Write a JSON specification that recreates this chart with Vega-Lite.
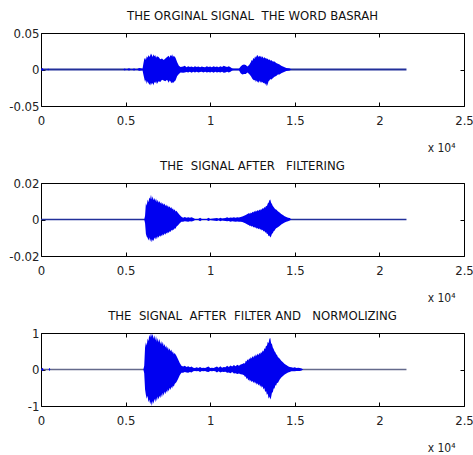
{
  "$schema": "https://vega.github.io/schema/vega-lite/v6.json",
  "padding": {"left": 8, "top": 9, "right": 0, "bottom": 4},
  "background": "white",
  "spacing": 5,
  "config": {
    "font": "Liberation Sans Narrow, DejaVu Sans Condensed, sans-serif",
    "view": {"stroke": "#000", "strokeWidth": 1},
    "axis": {"domain": false, "grid": false, "labelFontSize": 13, "labelColor": "#222", "tickColor": "#000", "tickSize": -4, "labelPadding": 6, "labelFlush": false, "titleFontSize": 12, "titleFontWeight": "normal", "titleColor": "#222", "labelFont": "Liberation Sans Narrow, DejaVu Sans Condensed, sans-serif", "titleFont": "Liberation Sans Narrow, DejaVu Sans Condensed, sans-serif"},
    "axisBottom": {"labelPadding": 12, "titlePadding": 15, "titleX": 414, "titleAlign": "right", "titleAnchor": null},
    "title": {"fontSize": 13, "fontWeight": "normal", "color": "#111", "anchor": "middle", "frame": "group", "offset": 4, "font": "Liberation Sans Narrow, DejaVu Sans Condensed, sans-serif"}
  },
  "datasets": {
    "orig": [
      {"x": 0, "hi": 0, "lo": 0}, {"x": 80, "hi": 0.002, "lo": -0.002}, {"x": 160, "hi": 0, "lo": 0},
      {"x": 380, "hi": 0, "lo": 0}, {"x": 420, "hi": 0.0015, "lo": -0.0015}, {"x": 470, "hi": 0, "lo": 0},
      {"x": 4850, "hi": 0, "lo": 0}, {"x": 4950, "hi": 0.0012, "lo": -0.0012}, {"x": 5050, "hi": 0, "lo": 0},
      {"x": 5200, "hi": 0.0018, "lo": -0.0015}, {"x": 5350, "hi": 0, "lo": 0}, {"x": 5500, "hi": 0.0012, "lo": -0.0012},
      {"x": 5650, "hi": 0, "lo": 0}, {"x": 5800, "hi": 0.002, "lo": -0.0018}, {"x": 6000, "hi": 0.001, "lo": -0.001},
      {"x": 6050, "hi": 0.008, "lo": -0.007}, {"x": 6100, "hi": 0.014, "lo": -0.012}, {"x": 6150, "hi": 0.016, "lo": -0.017}, {"x": 6200, "hi": 0.013, "lo": -0.014}, {"x": 6250, "hi": 0.018, "lo": -0.02},
      {"x": 6300, "hi": 0.016, "lo": -0.016}, {"x": 6350, "hi": 0.02, "lo": -0.019}, {"x": 6400, "hi": 0.017, "lo": -0.02}, {"x": 6450, "hi": 0.019, "lo": -0.022}, {"x": 6500, "hi": 0.022, "lo": -0.018}, {"x": 6550, "hi": 0.02, "lo": -0.021},
      {"x": 6600, "hi": 0.017, "lo": -0.018}, {"x": 6650, "hi": 0.021, "lo": -0.022}, {"x": 6700, "hi": 0.018, "lo": -0.017}, {"x": 6750, "hi": 0.02, "lo": -0.019}, {"x": 6800, "hi": 0.016, "lo": -0.016}, {"x": 6850, "hi": 0.018, "lo": -0.02},
      {"x": 6950, "hi": 0.017, "lo": -0.016}, {"x": 7050, "hi": 0.014, "lo": -0.017}, {"x": 7150, "hi": 0.015, "lo": -0.014},
      {"x": 7250, "hi": 0.013, "lo": -0.015}, {"x": 7350, "hi": 0.015, "lo": -0.016}, {"x": 7450, "hi": 0.017, "lo": -0.014},
      {"x": 7550, "hi": 0.019, "lo": -0.018}, {"x": 7600, "hi": 0.016, "lo": -0.015}, {"x": 7650, "hi": 0.02, "lo": -0.016}, {"x": 7700, "hi": 0.018, "lo": -0.019}, {"x": 7750, "hi": 0.021, "lo": -0.017}, {"x": 7800, "hi": 0.017, "lo": -0.019},
      {"x": 7850, "hi": 0.019, "lo": -0.017}, {"x": 7950, "hi": 0.016, "lo": -0.015}, {"x": 8050, "hi": 0.01, "lo": -0.009},
      {"x": 8150, "hi": 0.005, "lo": -0.006}, {"x": 8250, "hi": 0.0035, "lo": -0.004}, {"x": 8400, "hi": 0.004, "lo": -0.0045},
      {"x": 8500, "hi": 0.005, "lo": -0.004}, {"x": 8600, "hi": 0.003, "lo": -0.0035}, {"x": 8700, "hi": 0.0045, "lo": -0.004},
      {"x": 8800, "hi": 0.0035, "lo": -0.003}, {"x": 8900, "hi": 0.004, "lo": -0.0045}, {"x": 9000, "hi": 0.003, "lo": -0.003},
      {"x": 9100, "hi": 0.0045, "lo": -0.004}, {"x": 9200, "hi": 0.0035, "lo": -0.003}, {"x": 9300, "hi": 0.004, "lo": -0.004},
      {"x": 9400, "hi": 0.003, "lo": -0.0035}, {"x": 9500, "hi": 0.004, "lo": -0.003}, {"x": 9600, "hi": 0.0035, "lo": -0.004},
      {"x": 9700, "hi": 0.003, "lo": -0.003}, {"x": 9800, "hi": 0.0045, "lo": -0.004}, {"x": 9900, "hi": 0.0035, "lo": -0.0035},
      {"x": 10000, "hi": 0.004, "lo": -0.004}, {"x": 10100, "hi": 0.003, "lo": -0.003}, {"x": 10200, "hi": 0.0045, "lo": -0.0045},
      {"x": 10300, "hi": 0.0035, "lo": -0.003}, {"x": 10400, "hi": 0.004, "lo": -0.004}, {"x": 10500, "hi": 0.003, "lo": -0.0035},
      {"x": 10600, "hi": 0.0045, "lo": -0.004}, {"x": 10700, "hi": 0.0035, "lo": -0.003}, {"x": 10800, "hi": 0.005, "lo": -0.0045},
      {"x": 10900, "hi": 0.004, "lo": -0.004}, {"x": 11000, "hi": 0.0035, "lo": -0.003}, {"x": 11100, "hi": 0.0045, "lo": -0.004},
      {"x": 11200, "hi": 0.003, "lo": -0.003}, {"x": 11300, "hi": 0.0015, "lo": -0.0015}, {"x": 11400, "hi": 0.001, "lo": -0.001},
      {"x": 11700, "hi": 0.001, "lo": -0.001}, {"x": 11800, "hi": 0.004, "lo": -0.005}, {"x": 11900, "hi": 0.006, "lo": -0.007},
      {"x": 12000, "hi": 0.007, "lo": -0.006}, {"x": 12100, "hi": 0.006, "lo": -0.006}, {"x": 12200, "hi": 0.004, "lo": -0.004},
      {"x": 12300, "hi": 0.006, "lo": -0.006}, {"x": 12400, "hi": 0.01, "lo": -0.009}, {"x": 12450, "hi": 0.013, "lo": -0.011}, {"x": 12500, "hi": 0.012, "lo": -0.013},
      {"x": 12550, "hi": 0.016, "lo": -0.014}, {"x": 12600, "hi": 0.014, "lo": -0.015}, {"x": 12650, "hi": 0.018, "lo": -0.014}, {"x": 12700, "hi": 0.016, "lo": -0.017}, {"x": 12750, "hi": 0.019, "lo": -0.015}, {"x": 12800, "hi": 0.02, "lo": -0.017},
      {"x": 12850, "hi": 0.017, "lo": -0.018}, {"x": 12900, "hi": 0.019, "lo": -0.015}, {"x": 12950, "hi": 0.017, "lo": -0.018}, {"x": 13000, "hi": 0.019, "lo": -0.016}, {"x": 13050, "hi": 0.016, "lo": -0.018}, {"x": 13100, "hi": 0.018, "lo": -0.017},
      {"x": 13150, "hi": 0.015, "lo": -0.019}, {"x": 13200, "hi": 0.017, "lo": -0.018}, {"x": 13250, "hi": 0.015, "lo": -0.021}, {"x": 13300, "hi": 0.016, "lo": -0.019}, {"x": 13350, "hi": 0.014, "lo": -0.023}, {"x": 13400, "hi": 0.015, "lo": -0.02},
      {"x": 13450, "hi": 0.013, "lo": -0.016}, {"x": 13500, "hi": 0.014, "lo": -0.015}, {"x": 13550, "hi": 0.012, "lo": -0.013}, {"x": 13600, "hi": 0.013, "lo": -0.014}, {"x": 13700, "hi": 0.011, "lo": -0.012},
      {"x": 13800, "hi": 0.011, "lo": -0.01}, {"x": 13900, "hi": 0.009, "lo": -0.009}, {"x": 14000, "hi": 0.008, "lo": -0.007},
      {"x": 14100, "hi": 0.007, "lo": -0.007}, {"x": 14200, "hi": 0.005, "lo": -0.005}, {"x": 14300, "hi": 0.004, "lo": -0.004},
      {"x": 14400, "hi": 0.003, "lo": -0.003}, {"x": 14500, "hi": 0.002, "lo": -0.002}, {"x": 14700, "hi": 0.0012, "lo": -0.0012},
      {"x": 14800, "hi": 0, "lo": 0}, {"x": 21600, "hi": 0, "lo": 0}
    ],
    "filt": [
      {"x": 0, "hi": 0, "lo": 0}, {"x": 6100, "hi": 0, "lo": 0}, {"x": 6150, "hi": 0.002, "lo": -0.002},
      {"x": 6200, "hi": 0.009, "lo": -0.008}, {"x": 6250, "hi": 0.0075, "lo": -0.0095}, {"x": 6300, "hi": 0.011, "lo": -0.01}, {"x": 6350, "hi": 0.0095, "lo": -0.0115}, {"x": 6400, "hi": 0.012, "lo": -0.0098},
      {"x": 6450, "hi": 0.0112, "lo": -0.012}, {"x": 6500, "hi": 0.0135, "lo": -0.0105}, {"x": 6550, "hi": 0.011, "lo": -0.0125}, {"x": 6600, "hi": 0.0128, "lo": -0.011}, {"x": 6650, "hi": 0.0105, "lo": -0.0118}, {"x": 6700, "hi": 0.0118, "lo": -0.0098},
      {"x": 6750, "hi": 0.0102, "lo": -0.011}, {"x": 6800, "hi": 0.0115, "lo": -0.0095}, {"x": 6850, "hi": 0.0095, "lo": -0.0108}, {"x": 6900, "hi": 0.0108, "lo": -0.0092}, {"x": 6950, "hi": 0.0092, "lo": -0.01}, {"x": 7000, "hi": 0.0102, "lo": -0.0088},
      {"x": 7050, "hi": 0.0088, "lo": -0.0095}, {"x": 7100, "hi": 0.0096, "lo": -0.0085}, {"x": 7150, "hi": 0.0082, "lo": -0.0092}, {"x": 7200, "hi": 0.0092, "lo": -0.008}, {"x": 7250, "hi": 0.008, "lo": -0.0088}, {"x": 7300, "hi": 0.0088, "lo": -0.0076},
      {"x": 7350, "hi": 0.0074, "lo": -0.0084}, {"x": 7400, "hi": 0.0082, "lo": -0.0072}, {"x": 7450, "hi": 0.007, "lo": -0.0078}, {"x": 7500, "hi": 0.0078, "lo": -0.0068}, {"x": 7550, "hi": 0.0066, "lo": -0.0074}, {"x": 7600, "hi": 0.0072, "lo": -0.0064},
      {"x": 7650, "hi": 0.0062, "lo": -0.0068}, {"x": 7700, "hi": 0.0068, "lo": -0.0058}, {"x": 7750, "hi": 0.0056, "lo": -0.0062}, {"x": 7800, "hi": 0.0062, "lo": -0.0055}, {"x": 7850, "hi": 0.005, "lo": -0.0056}, {"x": 7900, "hi": 0.0056, "lo": -0.0048},
      {"x": 7950, "hi": 0.0044, "lo": -0.005}, {"x": 8000, "hi": 0.0048, "lo": -0.004}, {"x": 8100, "hi": 0.0035, "lo": -0.0032}, {"x": 8200, "hi": 0.0025, "lo": -0.002},
      {"x": 8300, "hi": 0.0015, "lo": -0.0012}, {"x": 8400, "hi": 0.001, "lo": -0.0012}, {"x": 8500, "hi": 0.0014, "lo": -0.001},
      {"x": 8600, "hi": 0.0009, "lo": -0.0011}, {"x": 8700, "hi": 0.0013, "lo": -0.0012}, {"x": 8800, "hi": 0.001, "lo": -0.0009},
      {"x": 8900, "hi": 0.0012, "lo": -0.0011}, {"x": 9000, "hi": 0.0008, "lo": -0.0008}, {"x": 9100, "hi": 0.0003, "lo": -0.0003},
      {"x": 9300, "hi": 0.0003, "lo": -0.0003}, {"x": 9400, "hi": 0.001, "lo": -0.001}, {"x": 9500, "hi": 0.0003, "lo": -0.0003},
      {"x": 9800, "hi": 0.0003, "lo": -0.0003}, {"x": 9900, "hi": 0.0009, "lo": -0.0008}, {"x": 10000, "hi": 0.0003, "lo": -0.0003},
      {"x": 10400, "hi": 0.0008, "lo": -0.0008}, {"x": 10500, "hi": 0.0004, "lo": -0.0004}, {"x": 10600, "hi": 0.0009, "lo": -0.0009},
      {"x": 10700, "hi": 0.0005, "lo": -0.0005}, {"x": 10900, "hi": 0.0008, "lo": -0.0008}, {"x": 11000, "hi": 0.0012, "lo": -0.001},
      {"x": 11100, "hi": 0.0008, "lo": -0.0008}, {"x": 11200, "hi": 0.0011, "lo": -0.0012}, {"x": 11300, "hi": 0.0009, "lo": -0.0009},
      {"x": 11400, "hi": 0.0012, "lo": -0.0011}, {"x": 11500, "hi": 0.001, "lo": -0.0012}, {"x": 11600, "hi": 0.0013, "lo": -0.0011},
      {"x": 11700, "hi": 0.0011, "lo": -0.0013}, {"x": 11800, "hi": 0.0014, "lo": -0.0012}, {"x": 11900, "hi": 0.0016, "lo": -0.0014},
      {"x": 12000, "hi": 0.002, "lo": -0.0018}, {"x": 12100, "hi": 0.0025, "lo": -0.0022}, {"x": 12200, "hi": 0.003, "lo": -0.0028},
      {"x": 12300, "hi": 0.0035, "lo": -0.0032}, {"x": 12350, "hi": 0.003, "lo": -0.0037}, {"x": 12400, "hi": 0.0038, "lo": -0.0033}, {"x": 12450, "hi": 0.0034, "lo": -0.004}, {"x": 12500, "hi": 0.0043, "lo": -0.0036},
      {"x": 12550, "hi": 0.0038, "lo": -0.0044}, {"x": 12600, "hi": 0.0046, "lo": -0.004}, {"x": 12650, "hi": 0.0041, "lo": -0.0047}, {"x": 12700, "hi": 0.005, "lo": -0.0043}, {"x": 12750, "hi": 0.0044, "lo": -0.005}, {"x": 12800, "hi": 0.0052, "lo": -0.0046},
      {"x": 12850, "hi": 0.0047, "lo": -0.0053}, {"x": 12900, "hi": 0.0055, "lo": -0.0048}, {"x": 12950, "hi": 0.005, "lo": -0.0056}, {"x": 13000, "hi": 0.0058, "lo": -0.0052}, {"x": 13050, "hi": 0.0054, "lo": -0.006}, {"x": 13100, "hi": 0.0063, "lo": -0.0056},
      {"x": 13150, "hi": 0.0059, "lo": -0.0066}, {"x": 13200, "hi": 0.0068, "lo": -0.0061}, {"x": 13250, "hi": 0.0064, "lo": -0.0072}, {"x": 13300, "hi": 0.0076, "lo": -0.0068}, {"x": 13350, "hi": 0.0072, "lo": -0.008}, {"x": 13400, "hi": 0.0088, "lo": -0.0078},
      {"x": 13450, "hi": 0.0092, "lo": -0.0092}, {"x": 13500, "hi": 0.0105, "lo": -0.0088}, {"x": 13550, "hi": 0.011, "lo": -0.0098}, {"x": 13600, "hi": 0.0092, "lo": -0.0092}, {"x": 13650, "hi": 0.0085, "lo": -0.0078}, {"x": 13700, "hi": 0.0074, "lo": -0.0076},
      {"x": 13750, "hi": 0.0068, "lo": -0.0064}, {"x": 13800, "hi": 0.0062, "lo": -0.0062}, {"x": 13850, "hi": 0.0056, "lo": -0.0054}, {"x": 13900, "hi": 0.0055, "lo": -0.0048},
      {"x": 14000, "hi": 0.0045, "lo": -0.0042}, {"x": 14100, "hi": 0.0038, "lo": -0.0035}, {"x": 14200, "hi": 0.003, "lo": -0.0028},
      {"x": 14300, "hi": 0.0025, "lo": -0.0022}, {"x": 14400, "hi": 0.0018, "lo": -0.0016}, {"x": 14500, "hi": 0.0014, "lo": -0.0012},
      {"x": 14600, "hi": 0.001, "lo": -0.001}, {"x": 14700, "hi": 0.0008, "lo": -0.0006}, {"x": 14800, "hi": 0, "lo": 0},
      {"x": 21600, "hi": 0, "lo": 0}
    ],
    "norm": [
      {"x": 0, "hi": 0, "lo": 0}, {"x": 100, "hi": 0.05, "lo": -0.05}, {"x": 150, "hi": 0, "lo": 0},
      {"x": 450, "hi": 0, "lo": 0}, {"x": 500, "hi": 0.05, "lo": -0.04}, {"x": 550, "hi": 0, "lo": 0},
      {"x": 6050, "hi": 0, "lo": 0}, {"x": 6100, "hi": 0.1, "lo": -0.1}, {"x": 6150, "hi": 0.6, "lo": -0.55},
      {"x": 6200, "hi": 0.75, "lo": -0.7}, {"x": 6250, "hi": 0.66, "lo": -0.8}, {"x": 6300, "hi": 0.85, "lo": -0.72}, {"x": 6350, "hi": 0.78, "lo": -0.9}, {"x": 6400, "hi": 0.95, "lo": -0.82},
      {"x": 6450, "hi": 0.88, "lo": -0.95}, {"x": 6500, "hi": 1.0, "lo": -0.88}, {"x": 6550, "hi": 0.9, "lo": -1.0}, {"x": 6600, "hi": 0.98, "lo": -0.86}, {"x": 6650, "hi": 0.84, "lo": -0.94},
      {"x": 6700, "hi": 0.94, "lo": -0.8}, {"x": 6750, "hi": 0.8, "lo": -0.9}, {"x": 6800, "hi": 0.92, "lo": -0.78}, {"x": 6850, "hi": 0.76, "lo": -0.86}, {"x": 6900, "hi": 0.86, "lo": -0.74},
      {"x": 6950, "hi": 0.74, "lo": -0.82}, {"x": 7000, "hi": 0.84, "lo": -0.72}, {"x": 7050, "hi": 0.7, "lo": -0.78}, {"x": 7100, "hi": 0.78, "lo": -0.68}, {"x": 7150, "hi": 0.68, "lo": -0.76},
      {"x": 7200, "hi": 0.76, "lo": -0.64}, {"x": 7250, "hi": 0.64, "lo": -0.72}, {"x": 7300, "hi": 0.7, "lo": -0.6}, {"x": 7350, "hi": 0.6, "lo": -0.68}, {"x": 7400, "hi": 0.66, "lo": -0.58},
      {"x": 7450, "hi": 0.56, "lo": -0.64}, {"x": 7500, "hi": 0.62, "lo": -0.54}, {"x": 7550, "hi": 0.52, "lo": -0.6}, {"x": 7600, "hi": 0.58, "lo": -0.5}, {"x": 7650, "hi": 0.5, "lo": -0.56},
      {"x": 7700, "hi": 0.55, "lo": -0.47}, {"x": 7750, "hi": 0.46, "lo": -0.52}, {"x": 7800, "hi": 0.5, "lo": -0.44}, {"x": 7850, "hi": 0.42, "lo": -0.47},
      {"x": 7900, "hi": 0.45, "lo": -0.4}, {"x": 8000, "hi": 0.38, "lo": -0.35}, {"x": 8100, "hi": 0.28, "lo": -0.26},
      {"x": 8200, "hi": 0.18, "lo": -0.16}, {"x": 8300, "hi": 0.1, "lo": -0.09}, {"x": 8400, "hi": 0.08, "lo": -0.09},
      {"x": 8500, "hi": 0.1, "lo": -0.07}, {"x": 8600, "hi": 0.07, "lo": -0.08}, {"x": 8700, "hi": 0.09, "lo": -0.09},
      {"x": 8800, "hi": 0.06, "lo": -0.07}, {"x": 8900, "hi": 0.08, "lo": -0.08}, {"x": 9000, "hi": 0.05, "lo": -0.05},
      {"x": 9100, "hi": 0.04, "lo": -0.04}, {"x": 9200, "hi": 0.06, "lo": -0.05}, {"x": 9300, "hi": 0.04, "lo": -0.04},
      {"x": 9400, "hi": 0.07, "lo": -0.07}, {"x": 9500, "hi": 0.04, "lo": -0.04}, {"x": 9600, "hi": 0.05, "lo": -0.05},
      {"x": 9700, "hi": 0.04, "lo": -0.04}, {"x": 9800, "hi": 0.06, "lo": -0.06}, {"x": 9900, "hi": 0.08, "lo": -0.07},
      {"x": 10000, "hi": 0.04, "lo": -0.04}, {"x": 10100, "hi": 0.05, "lo": -0.05}, {"x": 10200, "hi": 0.04, "lo": -0.04},
      {"x": 10300, "hi": 0.06, "lo": -0.05}, {"x": 10400, "hi": 0.08, "lo": -0.08}, {"x": 10500, "hi": 0.05, "lo": -0.05},
      {"x": 10600, "hi": 0.09, "lo": -0.08}, {"x": 10700, "hi": 0.05, "lo": -0.06}, {"x": 10800, "hi": 0.07, "lo": -0.07},
      {"x": 10900, "hi": 0.06, "lo": -0.06}, {"x": 11000, "hi": 0.1, "lo": -0.09}, {"x": 11100, "hi": 0.07, "lo": -0.08},
      {"x": 11200, "hi": 0.11, "lo": -0.1}, {"x": 11300, "hi": 0.08, "lo": -0.07}, {"x": 11400, "hi": 0.12, "lo": -0.11},
      {"x": 11500, "hi": 0.09, "lo": -0.1}, {"x": 11600, "hi": 0.13, "lo": -0.12}, {"x": 11700, "hi": 0.1, "lo": -0.11},
      {"x": 11800, "hi": 0.14, "lo": -0.13}, {"x": 11900, "hi": 0.15, "lo": -0.14}, {"x": 12000, "hi": 0.18, "lo": -0.16},
      {"x": 12050, "hi": 0.16, "lo": -0.2}, {"x": 12100, "hi": 0.24, "lo": -0.19}, {"x": 12150, "hi": 0.22, "lo": -0.26}, {"x": 12200, "hi": 0.28, "lo": -0.23}, {"x": 12250, "hi": 0.25, "lo": -0.3},
      {"x": 12300, "hi": 0.31, "lo": -0.27}, {"x": 12350, "hi": 0.28, "lo": -0.33}, {"x": 12400, "hi": 0.34, "lo": -0.29}, {"x": 12450, "hi": 0.3, "lo": -0.35}, {"x": 12500, "hi": 0.37, "lo": -0.31},
      {"x": 12550, "hi": 0.32, "lo": -0.37}, {"x": 12600, "hi": 0.39, "lo": -0.33}, {"x": 12650, "hi": 0.35, "lo": -0.39}, {"x": 12700, "hi": 0.42, "lo": -0.35}, {"x": 12750, "hi": 0.37, "lo": -0.42},
      {"x": 12800, "hi": 0.44, "lo": -0.38}, {"x": 12850, "hi": 0.39, "lo": -0.44}, {"x": 12900, "hi": 0.46, "lo": -0.4}, {"x": 12950, "hi": 0.42, "lo": -0.47}, {"x": 13000, "hi": 0.48, "lo": -0.43},
      {"x": 13050, "hi": 0.45, "lo": -0.5}, {"x": 13100, "hi": 0.52, "lo": -0.46}, {"x": 13150, "hi": 0.49, "lo": -0.55}, {"x": 13200, "hi": 0.58, "lo": -0.51}, {"x": 13250, "hi": 0.56, "lo": -0.62},
      {"x": 13300, "hi": 0.66, "lo": -0.58}, {"x": 13350, "hi": 0.64, "lo": -0.7}, {"x": 13400, "hi": 0.76, "lo": -0.66}, {"x": 13450, "hi": 0.72, "lo": -0.8}, {"x": 13500, "hi": 0.84, "lo": -0.74},
      {"x": 13550, "hi": 0.86, "lo": -0.82}, {"x": 13600, "hi": 0.72, "lo": -0.76}, {"x": 13650, "hi": 0.7, "lo": -0.64}, {"x": 13700, "hi": 0.6, "lo": -0.62}, {"x": 13750, "hi": 0.56, "lo": -0.52},
      {"x": 13800, "hi": 0.5, "lo": -0.52}, {"x": 13850, "hi": 0.47, "lo": -0.43}, {"x": 13900, "hi": 0.42, "lo": -0.44}, {"x": 13950, "hi": 0.4, "lo": -0.36}, {"x": 14000, "hi": 0.34, "lo": -0.37},
      {"x": 14100, "hi": 0.3, "lo": -0.28}, {"x": 14200, "hi": 0.24, "lo": -0.22}, {"x": 14300, "hi": 0.2, "lo": -0.18},
      {"x": 14400, "hi": 0.15, "lo": -0.14}, {"x": 14500, "hi": 0.12, "lo": -0.11}, {"x": 14600, "hi": 0.09, "lo": -0.08},
      {"x": 14700, "hi": 0.07, "lo": -0.07}, {"x": 14800, "hi": 0.06, "lo": -0.05}, {"x": 14900, "hi": 0.05, "lo": -0.05},
      {"x": 15000, "hi": 0.06, "lo": -0.05}, {"x": 15100, "hi": 0.04, "lo": -0.04}, {"x": 15200, "hi": 0.05, "lo": -0.04},
      {"x": 15300, "hi": 0.04, "lo": -0.04}, {"x": 15400, "hi": 0.03, "lo": -0.03}, {"x": 15500, "hi": 0, "lo": 0},
      {"x": 21600, "hi": 0, "lo": 0}
    ],
    "base": [{"start": 0, "end": 21600}]
  },
  "vconcat": [
    {
      "title": "THE ORGINAL SIGNAL\u00a0 THE WORD BASRAH",
      "width": 423, "height": 73,
      "layer": [
        {
          "data": {"name": "base"},
          "mark": {"type": "rule", "color": "#22309a", "strokeWidth": 2},
          "encoding": {
            "x": {"field": "start", "type": "quantitative", "scale": {"domain": [0, 25000], "nice": false, "zero": false},
                  "axis": {"orient": "top", "labels": false, "values": [0, 5000, 10000, 15000, 20000, 25000], "title": null}},
            "x2": {"field": "end"},
            "y": {"datum": 0, "type": "quantitative", "scale": {"domain": [-0.05, 0.05], "nice": false},
                  "axis": {"orient": "right", "labels": false, "values": [-0.05, 0, 0.05], "title": null}}
          }
        },
        {
          "data": {"name": "orig"},
          "mark": {"type": "area", "color": "#0000f0", "interpolate": "linear", "opacity": 1},
          "encoding": {
            "x": {"field": "x", "type": "quantitative",
                  "axis": {"orient": "bottom", "values": [0, 5000, 10000, 15000, 20000, 25000], "labelExpr": "'' + datum.value / 10000", "title": "x 10⁴"}},
            "y": {"field": "hi", "type": "quantitative", "stack": null,
                  "axis": {"orient": "left", "values": [-0.05, 0, 0.05], "labelExpr": "'' + datum.value", "title": null}},
            "y2": {"field": "lo"}
          }
        }
      ],
      "resolve": {"axis": {"x": "independent", "y": "independent"}}
    },
    {
      "title": "THE\u00a0 SIGNAL AFTER\u00a0\u00a0 FILTERING",
      "width": 423, "height": 73,
      "layer": [
        {
          "data": {"name": "base"},
          "mark": {"type": "rule", "color": "#22309a", "strokeWidth": 1.6},
          "encoding": {
            "x": {"field": "start", "type": "quantitative", "scale": {"domain": [0, 25000], "nice": false, "zero": false},
                  "axis": {"orient": "top", "labels": false, "values": [0, 5000, 10000, 15000, 20000, 25000], "title": null}},
            "x2": {"field": "end"},
            "y": {"datum": 0, "type": "quantitative", "scale": {"domain": [-0.02, 0.02], "nice": false},
                  "axis": {"orient": "right", "labels": false, "values": [-0.02, 0, 0.02], "title": null}}
          }
        },
        {
          "data": {"name": "filt"},
          "mark": {"type": "area", "color": "#0000f0", "interpolate": "linear"},
          "encoding": {
            "x": {"field": "x", "type": "quantitative",
                  "axis": {"orient": "bottom", "values": [0, 5000, 10000, 15000, 20000, 25000], "labelExpr": "'' + datum.value / 10000", "title": "x 10⁴"}},
            "y": {"field": "hi", "type": "quantitative", "stack": null,
                  "axis": {"orient": "left", "values": [-0.02, 0, 0.02], "labelExpr": "'' + datum.value", "title": null}},
            "y2": {"field": "lo"}
          }
        }
      ],
      "resolve": {"axis": {"x": "independent", "y": "independent"}}
    },
    {
      "title": "THE\u00a0 SIGNAL\u00a0 AFTER\u00a0 FILTER AND\u00a0\u00a0 NORMOLIZING",
      "width": 423, "height": 73,
      "layer": [
        {
          "data": {"name": "base"},
          "mark": {"type": "rule", "color": "#646a8c", "strokeWidth": 1.5},
          "encoding": {
            "x": {"field": "start", "type": "quantitative", "scale": {"domain": [0, 25000], "nice": false, "zero": false},
                  "axis": {"orient": "top", "labels": false, "values": [0, 5000, 10000, 15000, 20000, 25000], "title": null}},
            "x2": {"field": "end"},
            "y": {"datum": 0, "type": "quantitative", "scale": {"domain": [-1, 1], "nice": false},
                  "axis": {"orient": "right", "labels": false, "values": [-1, 0, 1], "title": null}}
          }
        },
        {
          "data": {"name": "norm"},
          "mark": {"type": "area", "color": "#0000f0", "interpolate": "linear"},
          "encoding": {
            "x": {"field": "x", "type": "quantitative",
                  "axis": {"orient": "bottom", "values": [0, 5000, 10000, 15000, 20000, 25000], "labelExpr": "'' + datum.value / 10000", "title": "x 10⁴"}},
            "y": {"field": "hi", "type": "quantitative", "stack": null,
                  "axis": {"orient": "left", "values": [-1, 0, 1], "labelExpr": "'' + datum.value", "title": null}},
            "y2": {"field": "lo"}
          }
        }
      ],
      "resolve": {"axis": {"x": "independent", "y": "independent"}}
    }
  ]
}
